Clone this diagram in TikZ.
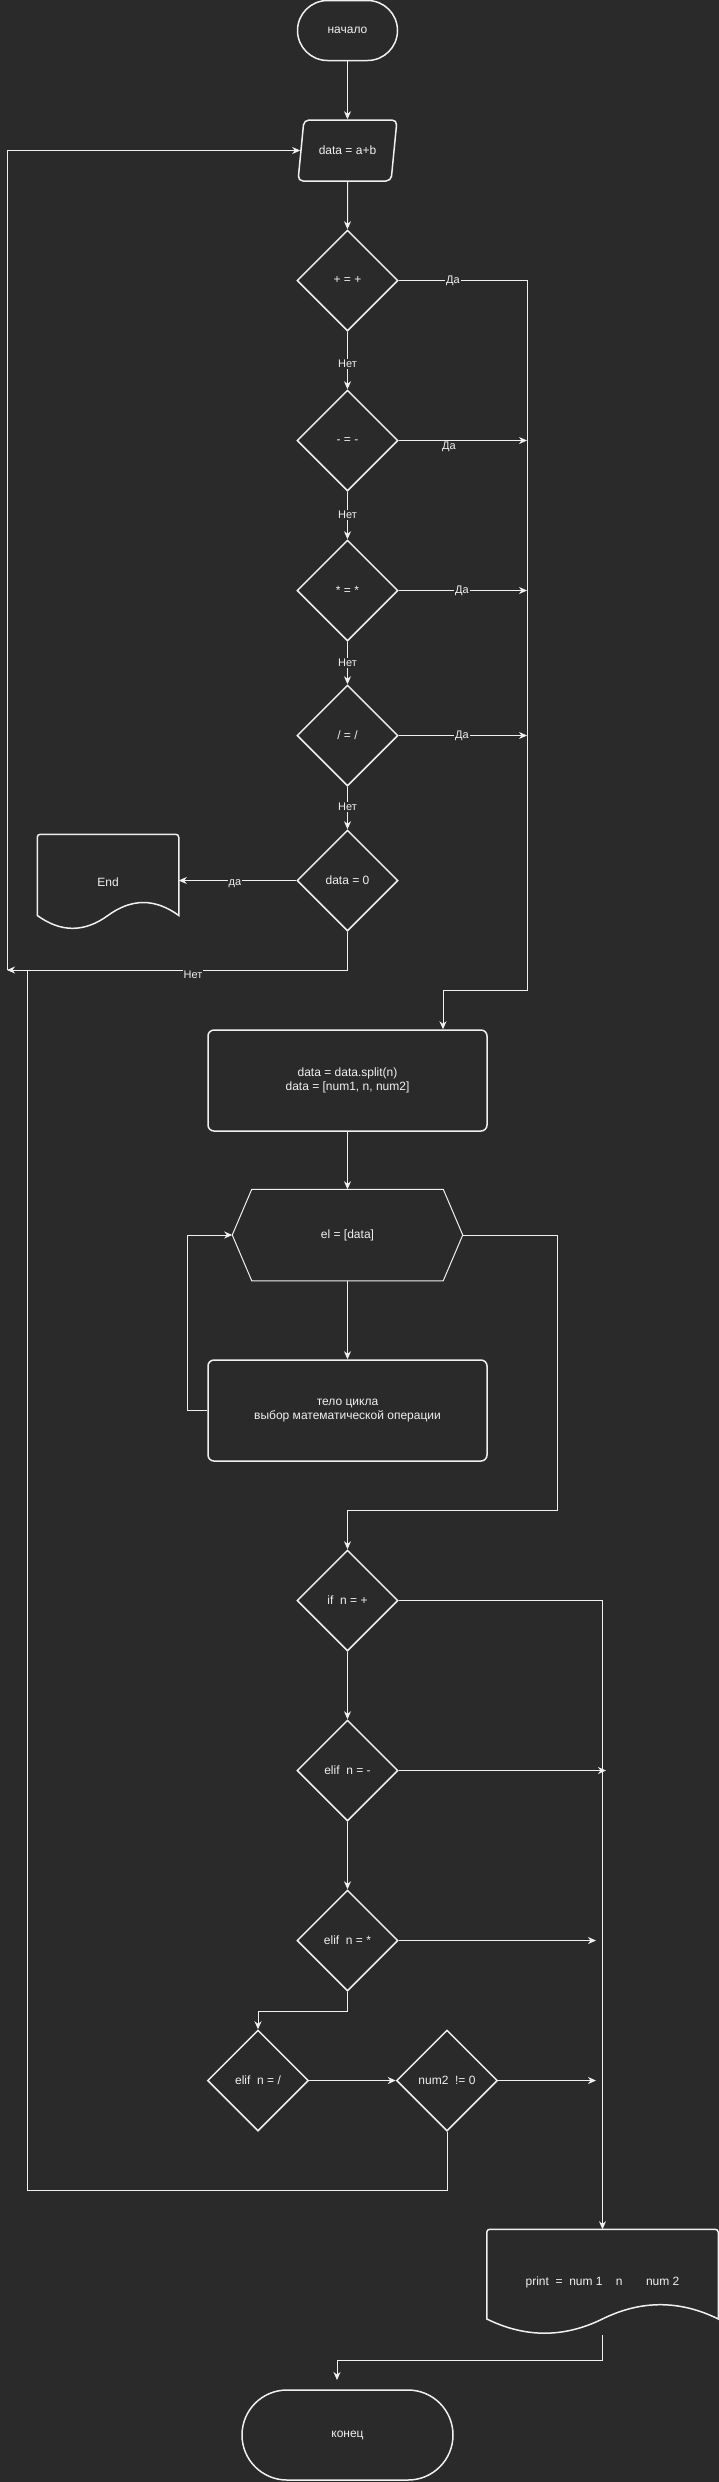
\documentclass[tikz,border=0pt]{standalone}
\usepackage{fontspec}
\setmainfont{Liberation Sans}
\usepackage{tikz}
\usetikzlibrary{arrows.meta,positioning,calc,shapes.geometric}
\definecolor{Canvas}{HTML}{2A2A2A}
\definecolor{Ink}{HTML}{F0F0F0}

% outline of a document node (wavy bottom)
\newcommand{\docoutline}[1]{%
  \draw[shapeline] let \p1=(#1.north west), \p2=(#1.south east),
      \n1={\x2-\x1}, \n2={\y1-\y2} in
    (\x1,\y1-0.85*\n2) [rounded corners=3pt] -- (\x1,\y1) -- (\x2,\y1)
    [sharp corners] -- (\x2,\y1-0.85*\n2)
    .. controls (\x1+0.8333*\n1,\y1-0.67*\n2) and (\x1+0.6667*\n1,\y1-0.67*\n2) .. (\x1+0.5*\n1,\y1-0.85*\n2)
    .. controls (\x1+0.3333*\n1,\y1-1.03*\n2) and (\x1+0.1667*\n1,\y1-1.03*\n2) .. (\x1,\y1-0.85*\n2) -- cycle;}
% outline of the loop hexagon
\newcommand{\hexoutline}[1]{%
  \draw[hexline] ($(#1.north west)+(19.5,0)$) -- ($(#1.north east)+(-19.5,0)$) -- (#1.east)
    -- ($(#1.south east)+(-19.5,0)$) -- ($(#1.south west)+(19.5,0)$) -- (#1.west) -- cycle;}

\begin{document}
\begin{tikzpicture}[x=1pt, y=-1pt,
    base/.style={draw=Ink, line width=1.5pt, text=Ink, font=\fontsize{12}{14}\selectfont, align=center},
    termbox/.style={base, rectangle, rounded corners=#1},
    inbox/.style={base, trapezium, trapezium left angle=69, trapezium right angle=111,
      trapezium stretches body, minimum width=99pt, minimum height=61pt, rounded corners=5pt},
    decide/.style={base, diamond, aspect=1, minimum width=101pt, minimum height=101pt, inner sep=0pt},
    procbox/.style={base, rectangle, rounded corners=6pt, minimum width=279pt, minimum height=101pt},
    docbox/.style={base, draw=none, rectangle, inner sep=0pt},
    hexbox/.style={base, draw=none, rectangle, inner sep=0pt},
    shapeline/.style={draw=Ink, line width=1.5pt},
    hexline/.style={draw=Ink, line width=1pt},
    line/.style={draw=Ink, line width=1pt},
    arr/.style={line, -{Stealth[length=8pt, width=7pt, inset=2.5pt]}},
    lbl/.style={fill=Canvas, text=Ink, font=\fontsize{11}{13}\selectfont, inner sep=1pt}]

  \fill[Canvas] (0,0) rectangle (719,2482);
  \useasboundingbox (0,0) rectangle (719,2482);

  % input and operator checks
  \node[termbox=30pt, minimum width=100pt, minimum height=60pt] (start) at (347.5,30.5) {начало};
  \node[inbox] (inp) at (347.5,150.5) {data = a+b};
  \node[decide] (isadd) at (347.5,280.5) {+ = +};
  \node[decide] (issub) at (347.5,440.5) {- = -};
  \node[decide] (ismul) at (347.5,590.5) {* = *};
  \node[decide] (isdiv) at (347.5,735.5) {/ = /};
  \node[decide] (iszero) at (347.5,880.5) {data = 0};
  \node[docbox, minimum width=140pt, minimum height=94pt] (halt) at (108,882) {End};
  \docoutline{halt}

  % split and loop
  \node[procbox] (split) at (347.5,1080.5) {data = data.split(n)\\data = [num1, n, num2]};
  \node[hexbox, minimum width=229pt, minimum height=90pt] (loop) at (347.5,1235) {el = [data]};
  \hexoutline{loop}
  \node[procbox] (body) at (347.5,1410.5) {тело цикла\\выбор математической операции};

  % choice of operation
  \node[decide] (ifadd) at (347.5,1600.5) {if\ \ n = +};
  \node[decide] (ifsub) at (347.5,1770.5) {elif\ \ n = -};
  \node[decide] (ifmul) at (347.5,1940.5) {elif\ \ n = *};
  \node[decide] (ifdiv) at (258,2080.5) {elif\ \ n = /};
  \node[decide] (nonzero) at (447,2080.5) {num2\ \ != 0};
  \node[docbox, minimum width=230pt, minimum height=104pt] (show) at (602.5,2282)
    {print\ \ =\ \ num 1\ \ \ \ n\ \ \ \ \ \ \ num 2};
  \docoutline{show}
  \node[termbox=45pt, minimum width=211pt, minimum height=90pt] (stop) at (347.5,2435) {конец};

  \coordinate (trunk) at (527,990);
  \coordinate (backpt) at (7,970);
  \coordinate (joinpt) at (27,970);
  \coordinate (subout) at (606,1770.5);
  \coordinate (mulout) at (596,1940.5);
  \coordinate (divout) at (596,2080.5);
  \coordinate (stopin) at (337,2380);

  \draw[arr] (start) -- (inp);
  \draw[arr] (inp) -- (isadd);
  \draw[arr] (isadd) -- (issub);
  \draw[arr] (issub) -- (ismul);
  \draw[arr] (ismul) -- (isdiv);
  \draw[arr] (isdiv) -- (iszero);
  \draw[arr] (isadd.east) -| (trunk) -| ([xshift=95.5pt]split.north);
  \draw[arr] (issub.east) -- (issub.east -| trunk);
  \draw[arr] (ismul.east) -- (ismul.east -| trunk);
  \draw[arr] (isdiv.east) -- (isdiv.east -| trunk);
  \draw[arr] (iszero.west) -- (iszero.west -| halt.east);
  \draw[arr] (iszero.south) |- (backpt);
  \draw[arr] (backpt) |- (inp.west);

  \draw[arr] (split) -- (loop);
  \draw[arr] (loop) -- (body);
  \draw[arr] (body.west) -- ++(-20,0) |- (loop.west);
  \draw[arr] (loop.east) -| (557,1510) -| (ifadd.north);

  \draw[arr] (ifadd) -- (ifsub);
  \draw[arr] (ifsub) -- (ifmul);
  \draw[arr] (ifadd.east) -| (show.north);
  \draw[arr] (ifsub.east) -- (subout);
  \draw[arr] (ifmul.east) -- (mulout);
  \draw[arr] (ifmul.south) -- ++(0,20) -| (ifdiv.north);
  \draw[arr] (ifdiv) -- (nonzero);
  \draw[arr] (nonzero.east) -- (divout);
  \draw[line] (nonzero.south) -- ++(0,59) -| (joinpt);
  \draw[arr] (show.south) -- ++(0,26) -| (stopin);

  % branch labels
  \node[lbl] (yes1) at (453,280.5) {Да};
  \node[lbl] (yes2) at (449,447) {Да};
  \node[lbl] (yes3) at (462,590.5) {Да};
  \node[lbl] (yes4) at (462,735.5) {Да};
  \node[lbl] (yes5) at (235,884) {да};
  \node[lbl] (no1) at (347.5,364) {Нет};
  \node[lbl] (no2) at (347.5,515) {Нет};
  \node[lbl] (no3) at (347.5,663) {Нет};
  \node[lbl] (no4) at (347.5,807) {Нет};
  \node[lbl] (no5) at (193,975) {Нет};
\end{tikzpicture}
\end{document}
